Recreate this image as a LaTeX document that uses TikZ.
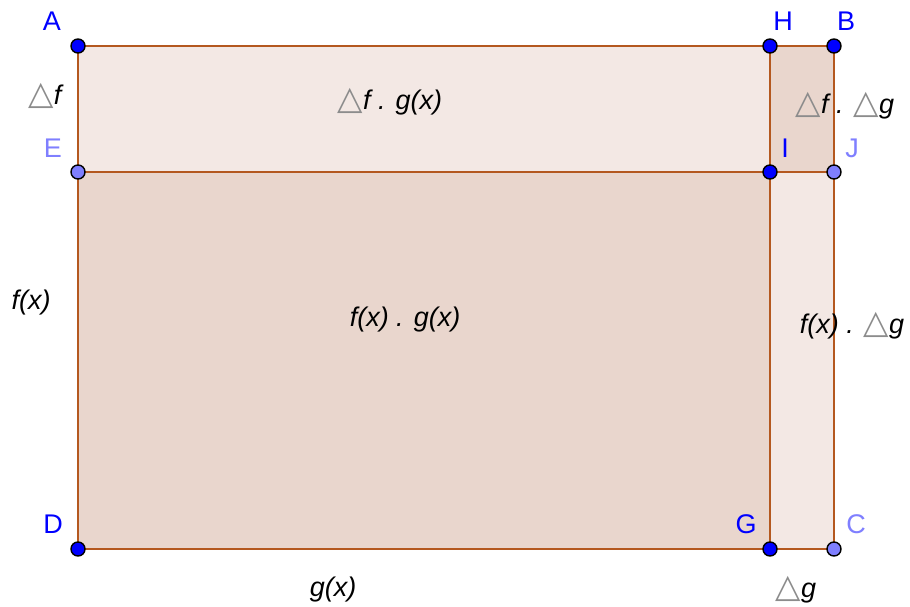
\documentclass[tikz,border=0pt]{standalone}
\usepackage{fontspec}
\setmainfont{Liberation Sans}
\newfontfamily\symfont{DejaVu Sans}
\usepackage{xcolor}
\usepackage{tikz}
\usetikzlibrary{positioning}
\definecolor{edge}{HTML}{B4581F}
\definecolor{lightfill}{HTML}{F3E8E4}
\definecolor{darkfill}{HTML}{E9D6CD}
\definecolor{ptblue}{HTML}{0000FF}
\definecolor{ptlight}{HTML}{7F7FFF}
\newcommand{\tri}{{\symfont\fontsize{33}{33}\selectfont\color{gray!90}\upshape △}}

\begin{document}
\begin{tikzpicture}[x=1pt,y=-1pt,font=\fontsize{27}{31}\selectfont,
  pt/.style={circle,draw=black,line width=1.4pt,fill=ptblue,inner sep=0pt,minimum size=14pt},
  ptl/.style={pt,fill=ptlight},
  lab/.style={text=ptblue},
  labl/.style={text=ptlight},
  math/.style={font=\fontsize{27}{31}\selectfont\itshape}]
  \useasboundingbox (0,0) rectangle (910,607);
  % corner points
  \coordinate (A) at (78,46);   \coordinate (H) at (770,46);  \coordinate (B) at (834,46);
  \coordinate (E) at (78,172);  \coordinate (I) at (770,172); \coordinate (J) at (834,172);
  \coordinate (D) at (78,549);  \coordinate (G) at (770,549); \coordinate (C) at (834,549);
  % areas
  \fill[lightfill] (A) rectangle (I);
  \fill[darkfill] (E) rectangle (G);
  \fill[darkfill] (H) rectangle (J);
  \fill[lightfill] (I) rectangle (C);
  \draw[edge,line width=2.5pt] (A)--(B)--(C)--(D)--cycle (E)--(J) (H)--(G);
  % points
  \foreach \p in {A,H,B,I,D,G} {\node[pt] (p\p) at (\p) {};}
  \foreach \p in {E,J,C} {\node[ptl] (p\p) at (\p) {};}
  % point names
  \node[lab] (nA) at (52,21) {A};
  \node[lab] (nH) at (783,21) {H};
  \node[lab] (nB) at (846,21) {B};
  \node[labl] (nE) at (53,148) {E};
  \node[lab] (nI) at (785,148) {I};
  \node[labl] (nJ) at (852,148) {J};
  \node[lab] (nD) at (53,524) {D};
  \node[lab] (nG) at (746,524) {G};
  \node[labl] (nC) at (856,524) {C};
  % area labels
  \node[math] (df) at (45,96) {\tri f};
  \node[math] (dfg) at (390,102) {\tri f . g(x)};
  \node[math] (dfdg) at (845,106) {\tri f . \tri g};
  \node[math] (f) at (31,303) {f(x)};
  \node[math] (fg) at (405,320) {f(x) . g(x)};
  \node[math] (fdg) at (852,326) {f(x) . \tri g};
  \node[math] (g) at (333,590) {g(x)};
  \node[math] (dg) at (796,590) {\tri g};
\end{tikzpicture}
\end{document}
